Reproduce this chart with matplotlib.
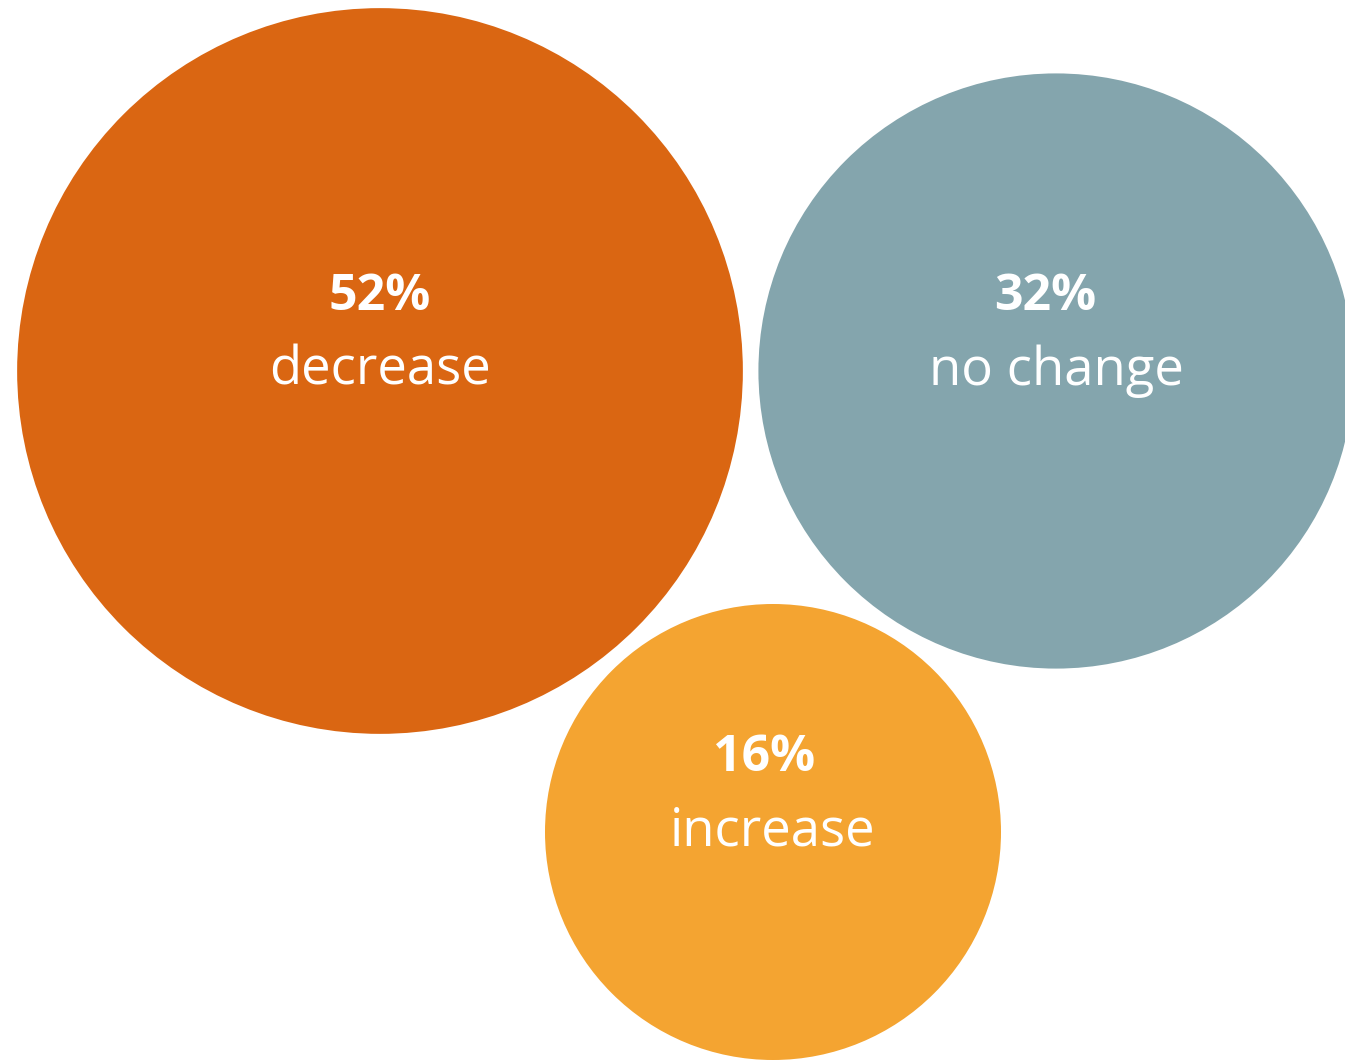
import matplotlib.pyplot as plt
from matplotlib.patches import Circle
import numpy as np

# Data
labels = ['decrease', 'no change', 'increase']
shares = [52, 32, 16]
colors = ['#DA6612', '#84A5AD', '#F4A431']

# packed layout (pixel coords, y down)
centers_x = [380, 1056, 773]
centers_y = [371, 371, 832]
pct_dx = [0, -11, -9]

fig = plt.figure(figsize=(13.45, 10.61), dpi=100)
ax = fig.add_axes([0, 0, 1, 1])
ax.set_xlim(0, 1345)
ax.set_ylim(1061, 0)
ax.set_aspect('equal')
ax.axis('off')

for lab, v, c, x, y, dx in zip(labels, shares, colors, centers_x, centers_y, pct_dx):
    r = 42 * np.sqrt(v) + 60
    ax.add_patch(Circle((x, y), r, facecolor=c, edgecolor='none'))
    ax.text(x + dx, y - 74, f'{v}%', ha='center', va='center', color='white',
            fontsize=36, fontweight='bold', family='Open Sans')
    ax.text(x, y, lab, ha='center', va='center', color='white',
            fontsize=38, family='Open Sans')

fig.savefig('out.png', dpi=100)
